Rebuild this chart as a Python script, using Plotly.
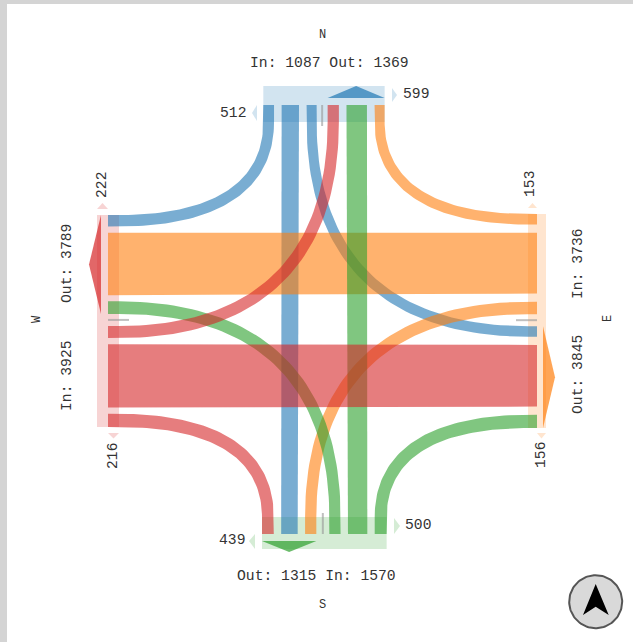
import numpy as np
import plotly.graph_objects as go

# ---- data ----
# Turning volumes: origin + destination
NW, NS, NE = 210, 720, 157
EN, EW, ES = 159, 3302, 275
SW, SN, SE = 277, 960, 333
WN, WE, WS = 250, 3355, 320
approach_in = {"N": 1087, "E": 3736, "S": 1570, "W": 3925}
approach_out = {"N": 1369, "E": 3845, "S": 1315, "W": 3789}
crossing_labels = {"N": (512, 599), "E": (153, 156), "S": (439, 500), "W": (222, 216)}
direction_labels = ["N", "E", "S", "W"]
# ------------------------------------

flows = {
    "NW": NW, "NS": NS, "NE": NE,
    "EN": EN, "EW": EW, "ES": ES,
    "SW": SW, "SN": SN, "SE": SE,
    "WN": WN, "WE": WE, "WS": WS,
}
colors = {"N": "31,119,180", "E": "255,127,14", "S": "44,160,44", "W": "214,39,40"}

# Layout of each side: lane order along the side, scale, gaps
sides = {
    "N": dict(order=["NW", "NS", "NE", "WN", "SN", "EN"], scale=0.013, start=263.3, gap=7.6, mid=11.0,
              edge=105, inner=122, outer=86, sign=1),
    "S": dict(order=["WS", "NS", "ES", "SW", "SN", "SE"], scale=0.0118, start=262, gap=7.4, mid=13.0,
              edge=534, inner=517, outer=549, sign=-1),
    "W": dict(order=["NW", "EW", "SW", "WN", "WE", "WS"], scale=0.0165, start=215, gap=6.2, mid=12.0,
              edge=108, inner=119, outer=97, sign=1),
    "E": dict(order=["EN", "EW", "ES", "NE", "WE", "SE"], scale=0.016, start=214, gap=8.2, mid=12.0,
              edge=537, inner=528, outer=546, sign=-1),
}
MIN_W = 8.0
lanes = {}
for name, s in sides.items():
    pos = s["start"]
    lanes[name] = {}
    for i, key in enumerate(s["order"]):
        w = MIN_W + s["scale"] * flows[key]
        lanes[name][key] = (pos, pos + w)
        pos += w
        if i == 2:
            s["mid_pos"] = pos + s["mid"] / 2
            pos += s["mid"]
        elif i < 5:
            pos += s["gap"]
    s["end"] = pos - 0


def pt(side, along, depth):
    """point on a side: along = position along side, depth = position across it"""
    return (along, depth) if side in "NS" else (depth, along)


def flow_polygon(key):
    a, b = key[0], key[1]
    sa, sb = sides[a], sides[b]
    la, lb = lanes[a][key], lanes[b][key]
    ca, cb = sum(la) / 2, sum(lb) / 2
    wa, wb = la[1] - la[0], lb[1] - lb[0]
    if (a in "NS") == (b in "NS"):  # straight across
        p = [pt(a, la[0], sa["edge"]), pt(b, lb[0], sb["edge"]),
             pt(b, lb[1], sb["edge"]), pt(a, la[1], sa["edge"])]
        return [q[0] for q in p] + [p[0][0]], [q[1] for q in p] + [p[0][1]]
    P0 = np.array(pt(a, ca, sa["inner"]), float)
    P3 = np.array(pt(b, cb, sb["inner"]), float)
    corner = np.array(pt(a, ca, cb), float)
    k = 0.65
    P1 = P0 + k * (corner - P0)
    P2 = P3 + k * (corner - P3)
    t = np.linspace(0, 1, 60)[:, None]
    C = (1 - t) ** 3 * P0 + 3 * (1 - t) ** 2 * t * P1 + 3 * (1 - t) * t ** 2 * P2 + t ** 3 * P3
    D = 3 * (1 - t) ** 2 * (P1 - P0) + 6 * (1 - t) * t * (P2 - P1) + 3 * t ** 2 * (P3 - P2)
    N = np.c_[-D[:, 1], D[:, 0]] / np.linalg.norm(D, axis=1, keepdims=True)
    w = (wa + (wb - wa) * t) / 2
    L, R = C + N * w, C - N * w
    # straight stubs into each band
    n0, n1 = N[0], N[-1]
    s0 = np.array(pt(a, ca, sa["edge"]), float)
    s1 = np.array(pt(b, cb, sb["edge"]), float)
    left = np.vstack([s0 + n0 * wa / 2, L, s1 + n1 * wb / 2])
    right = np.vstack([s0 - n0 * wa / 2, R, s1 - n1 * wb / 2])
    poly = np.vstack([left, right[::-1], left[:1]])
    return poly[:, 0], poly[:, 1]


fig = go.Figure()


def add_poly(x, y, color, alpha):
    fig.add_trace(go.Scatter(x=list(x), y=list(y), mode="lines", fill="toself",
                             fillcolor=f"rgba({color},{alpha})", line=dict(width=0),
                             hoverinfo="skip", showlegend=False))


# bands
for name, s in sides.items():
    lo, hi = s["start"], s["end"]
    for d0, d1 in [(s["edge"], s["inner"]), (s["outer"], s["edge"])]:
        px, py = zip(pt(name, lo, d0), pt(name, hi, d0), pt(name, hi, d1), pt(name, lo, d1), pt(name, lo, d0))
        add_poly(px, py, colors[name], 0.2)

# flows
for key in flows:
    fx, fy = flow_polygon(key)
    add_poly(fx, fy, colors[key[0]], 0.6)

# gray centre ticks
for name, s in sides.items():
    m = s["mid_pos"]
    tick_in = s["edge"] + (1 if s["sign"] > 0 else -1) * 21
    p0, p1 = pt(name, m, s["edge"]), pt(name, m, tick_in)
    fig.add_trace(go.Scatter(x=[p0[0], p1[0]], y=[p0[1], p1[1]], mode="lines",
                             line=dict(color="rgba(150,150,150,0.6)", width=2),
                             hoverinfo="skip", showlegend=False))

# out arrows
arrow_depth = {"N": (98, 86), "S": (541, 552), "W": (101, 89), "E": (543, 555)}
out_keys = {"N": ("WN", "EN"), "S": ("WS", "ES"), "W": ("NW", "SW"), "E": ("NE", "SE")}
for name, (first, last) in out_keys.items():
    lo = lanes[name][first][0]
    hi = lanes[name][last][1]
    base, tip = arrow_depth[name]
    px, py = zip(pt(name, lo, base), pt(name, (lo + hi) / 2, tip), pt(name, hi, base), pt(name, lo, base))
    add_poly(px, py, colors[name], 0.7)

# small crossing arrows (apex, base1, base2)
small = [
    ("N", [(397, 95), (392, 88), (392, 102)]),
    ("N", [(252, 113), (257, 105), (257, 121)]),
    ("S", [(400, 526), (394, 518), (394, 534)]),
    ("S", [(249, 541), (255, 534), (255, 549)]),
    ("W", [(102.5, 203), (97, 209), (108, 209)]),
    ("W", [(113.5, 438.5), (108, 433), (119, 433)]),
    ("E", [(532.5, 203), (528, 208), (537, 208)]),
    ("E", [(541.5, 438.5), (537, 433), (546, 433)]),
]
for name, tri in small:
    add_poly([p[0] for p in tri] + [tri[0][0]], [p[1] for p in tri] + [tri[0][1]], colors[name], 0.2)

# compass
theta = np.linspace(0, 2 * np.pi, 120)
fig.add_trace(go.Scatter(x=595.7 + 26.5 * np.cos(theta), y=601.7 + 26.5 * np.sin(theta), mode="lines",
                         fill="toself", fillcolor="#d9d9d9", line=dict(color="#555555", width=2),
                         hoverinfo="skip", showlegend=False))
fig.add_trace(go.Scatter(x=[595.7, 583, 595.7, 608.7, 595.7], y=[584, 615, 606.7, 615, 584], mode="lines",
                         fill="toself", fillcolor="#000000", line=dict(width=0),
                         hoverinfo="skip", showlegend=False))

# text
FONT = dict(family="Liberation Mono, monospace", size=14.7, color="#333333")
def label(x, y, text, angle=0, size=None):
    f = dict(FONT)
    if size:
        f["size"] = size
    fig.add_annotation(x=x, y=y, xref="x", yref="y", text=text, showarrow=False, textangle=angle,
                       font=f, xanchor="center", yanchor="middle")

label(322.5, 35, direction_labels[0], size=12)
label(608, 319, direction_labels[1], -90, size=12)
label(322.5, 605, direction_labels[2], size=12)
label(37, 319, direction_labels[3], -90, size=12)

label(329, 63, f"In: {approach_in['N']} Out: {approach_out['N']}")
label(316, 576, f"Out: {approach_out['S']} In: {approach_in['S']}")
label(67, 264, f"Out: {approach_out['W']}", -90)
label(67, 376, f"In: {approach_in['W']}", -90)
label(578, 264, f"In: {approach_in['E']}", -90)
label(578, 375, f"Out: {approach_out['E']}", -90)

label(233, 113, str(crossing_labels["N"][0]))
label(416, 94, str(crossing_labels["N"][1]))
label(232, 540, str(crossing_labels["S"][0]))
label(418, 525, str(crossing_labels["S"][1]))
label(102, 185, str(crossing_labels["W"][0]), -90)
label(113, 456, str(crossing_labels["W"][1]), -90)
label(530, 184, str(crossing_labels["E"][0]), -90)
label(541, 455, str(crossing_labels["E"][1]), -90)

fig.update_layout(
    width=633, height=642, margin=dict(l=0, r=0, t=0, b=0, pad=0),
    paper_bgcolor="white", plot_bgcolor="white", showlegend=False, dragmode=False,
    xaxis=dict(range=[0, 633], visible=False, fixedrange=True),
    yaxis=dict(range=[642, 0], visible=False, fixedrange=True),
    shapes=[
        dict(type="rect", xref="paper", yref="paper", x0=0, x1=1, y0=1 - 4 / 642, y1=1,
             fillcolor="#d4d4d4", line=dict(width=0), layer="above"),
        dict(type="rect", xref="paper", yref="paper", x0=0, x1=7 / 633, y0=0, y1=1,
             fillcolor="#d4d4d4", line=dict(width=0), layer="above"),
    ],
)
fig.write_html("out.html", config={"displayModeBar": False},
               post_script="document.body.style.margin='0';document.body.style.overflow='hidden';")
